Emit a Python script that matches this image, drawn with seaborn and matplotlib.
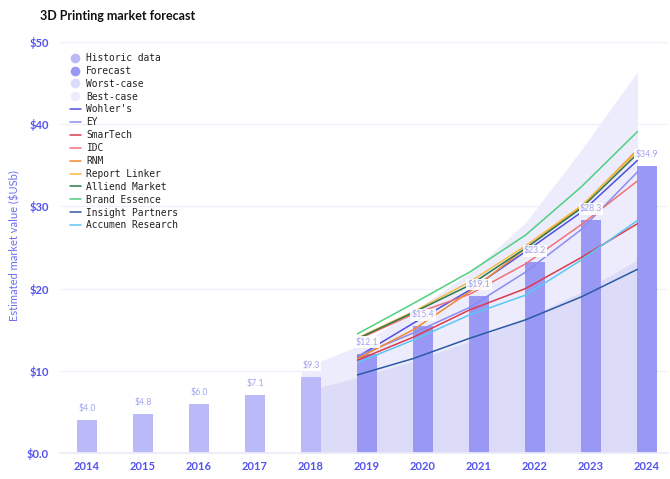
import numpy as np
import pandas as pd
import matplotlib
matplotlib.use("Agg")
import matplotlib.pyplot as plt
from matplotlib.lines import Line2D
import seaborn as sns

# ---------------- data ----------------
years = [2014, 2015, 2016, 2017, 2018, 2019, 2020, 2021, 2022, 2023, 2024]
market = [4.0, 4.8, 6.0, 7.1, 9.3, 12.1, 15.4, 19.1, 23.2, 28.3, 34.9]
bar_type = ["Historic data"] * 5 + ["Forecast"] * 6

band_years = [2018, 2019, 2020, 2021, 2022, 2023, 2024]
worst_case = [7.4, 9.2, 11.2, 13.6, 16.4, 19.6, 23.5]
best_case = [10.2, 13.0, 17.3, 21.9, 28.0, 36.9, 46.4]

fc_years = [2019, 2020, 2021, 2022, 2023, 2024]
wohlers = [11.7, 15.8, 19.8, 24.5, 29.3, 35.6]
ey = [11.8, 14.6, 17.7, 22.0, 27.2, 34.2]
smartech = [11.3, 14.1, 17.4, 20.0, 23.8, 27.9]
idc = [13.8, 16.9, 19.3, 23.0, 27.8, 33.1]
rnm = [11.5, 15.0, 19.6, 24.9, 30.0, 36.9]
report_linker = [14.0, 17.2, 20.8, 25.2, 30.1, 36.7]
alliend = [13.9, 17.1, 20.4, 24.9, 29.8, 36.4]
brand_essence = [14.5, 18.2, 22.0, 26.5, 32.4, 39.1]
insight = [9.5, 11.5, 13.95, 16.2, 19.0, 22.35]
accumen = [11.0, 13.75, 16.8, 19.2, 23.5, 28.3]

series_names = ["Wohler's", "EY", "SmarTech", "IDC", "RNM", "Report Linker",
                "Alliend Market", "Brand Essence", "Insight Partners", "Accumen Research"]
series_values = [wohlers, ey, smartech, idc, rnm, report_linker, alliend,
                 brand_essence, insight, accumen]
series_colors = ["#5050e0", "#8c8cf0", "#dc3a4c", "#f07278", "#f08a2e", "#f6bb45",
                 "#2d7a4c", "#4fd07e", "#2a5aa6", "#5cc6f4"]

c_hist = "#babaf9"
c_fore = "#9999f5"
c_worst = "#dcdcf9"
c_best = "#ececfc"
blue_txt = "#5252ee"

# ---------------- figure ----------------
sns.set_theme(style="white")
plt.rcParams["font.family"] = ["Lato", "DejaVu Sans"]

fig = plt.figure(figsize=(6.7, 4.79), dpi=100)
ax = fig.add_axes([60 / 670, 1 - 453 / 479, 608 / 670, 411 / 479])

bar_w = 0.34
off = bar_w / 2

# bands
bx = np.array(band_years) - off
ax.fill_between(bx, 0, best_case, color=c_best, lw=0, zorder=1)
ax.fill_between(bx, 0, worst_case, color=c_worst, lw=0, zorder=1.1)

# bars
df = pd.DataFrame({"year": years, "value": market, "type": bar_type})
sns.barplot(data=df, x="year", y="value", hue="type", native_scale=True,
            dodge=False, width=bar_w, palette={"Historic data": c_hist, "Forecast": c_fore},
            saturation=1, legend=False, ax=ax, zorder=2, linewidth=0)

# forecast lines
rows = []
for name, vals in zip(series_names, series_values):
    for y, v in zip(fc_years, vals):
        rows.append({"x": y - off, "value": v, "source": name})
ldf = pd.DataFrame(rows)
sns.lineplot(data=ldf, x="x", y="value", hue="source", hue_order=series_names,
             palette=dict(zip(series_names, series_colors)), linewidth=1.1,
             legend=False, ax=ax, zorder=3)

# value labels
for y, v in zip(years, market):
    ax.annotate(f"${v:.1f}", (y, v), xytext=(0, 5), textcoords="offset points",
                ha="center", va="bottom", fontsize=6.3, color="#a3a3f2", zorder=4,
                bbox=dict(boxstyle="square,pad=0.15", fc="white", ec="none", alpha=0.9))

# axes styling
ax.set_xlim(2014 - 27 / 56, 2024 + 21 / 56)
ax.set_ylim(0, 50)
ax.set_xticks(years)
ax.set_xticklabels([str(y) for y in years])
ax.set_yticks([0, 10, 20, 30, 40, 50])
ax.set_yticklabels(["$0.0", "$10", "$20", "$30", "$40", "$50"])
ax.tick_params(axis="both", length=0, labelsize=8, labelcolor=blue_txt)
ax.tick_params(axis="y", pad=8)
ax.tick_params(axis="x", pad=6)
for lab in ax.get_xticklabels() + ax.get_yticklabels():
    lab.set_fontweight("bold")
ax.grid(axis="y", color="#f0f0fa", lw=1)
ax.grid(axis="x", visible=False)
ax.set_axisbelow(True)
for s in ["top", "right", "left"]:
    ax.spines[s].set_visible(False)
ax.spines["bottom"].set_color("#ececf8")
ax.set_xlabel("")
ax.set_ylabel("Estimated market value ($USb)", fontsize=8, color="#6e6ef0")
ax.yaxis.set_label_coords(-40 / 608, 0.505)

fig.text(40 / 670, 1 - 16 / 479, "3D Printing market forecast", fontsize=9,
         fontweight="bold", color="#111111", ha="left", va="center")

# legend
handles = [
    Line2D([], [], ls="none", marker="o", ms=7, mfc=c_hist, mec="none", label="Historic data"),
    Line2D([], [], ls="none", marker="o", ms=7, mfc=c_fore, mec="none", label="Forecast"),
    Line2D([], [], ls="none", marker="o", ms=7, mfc=c_worst, mec="none", label="Worst-case"),
    Line2D([], [], ls="none", marker="o", ms=7, mfc=c_best, mec="none", label="Best-case"),
]
for name, col in zip(series_names, series_colors):
    handles.append(Line2D([], [], color=col, lw=1.1, label=name))
leg = ax.legend(handles=handles, loc="upper left", bbox_to_anchor=(70 / 670, 1 - 53 / 479),
                bbox_transform=fig.transFigure, frameon=False, handlelength=1.1,
                handletextpad=0.6, labelspacing=0.3, borderpad=0, borderaxespad=0,
                prop={"family": "DejaVu Sans Mono", "size": 6.9})
for t in leg.get_texts():
    t.set_color("#222222")

fig.savefig("out.png", dpi=100)
